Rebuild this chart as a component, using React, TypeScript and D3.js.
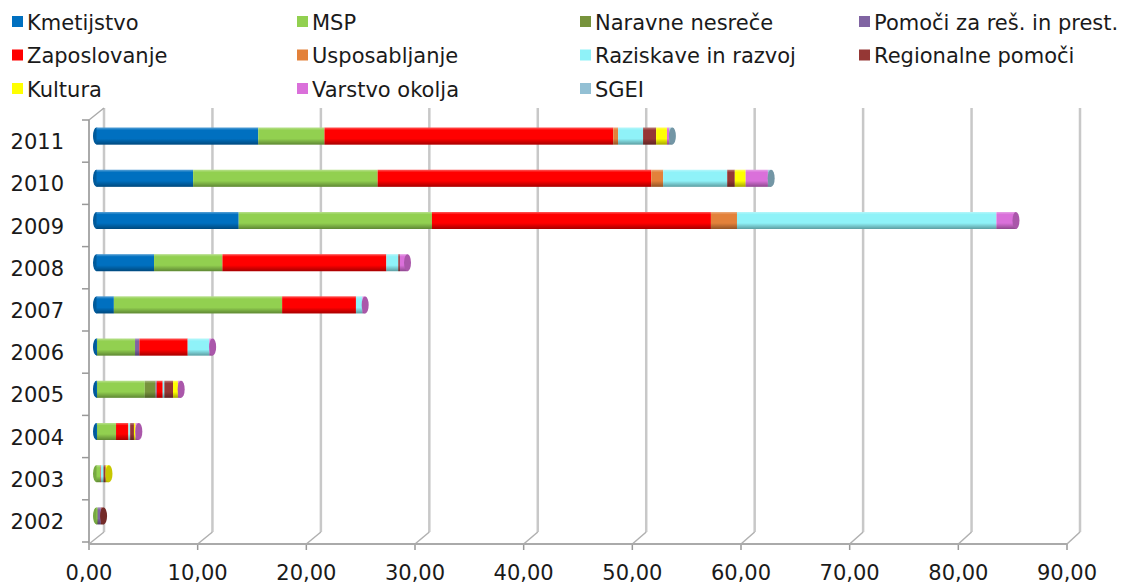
import * as React from 'react';
import {scaleBand, scaleLinear, stack, color} from 'd3';

const years = ['2002', '2003', '2004', '2005', '2006', '2007', '2008', '2009', '2010', '2011'];
const seriesNames = [
    'Kmetijstvo', 'MSP', 'Naravne nesreče', 'Pomoči za reš. in prest.',
    'Zaposlovanje', 'Usposabljanje', 'Raziskave in razvoj', 'Regionalne pomoči',
    'Kultura', 'Varstvo okolja', 'SGEI'
];
const seriesColors = [
    '#0070C0', '#92D050', '#77933C', '#8064A2',
    '#FF0000', '#E3813A', '#8FF2F8', '#953735',
    '#FFFF00', '#DA70DA', '#93C0D4'
];

// values per year, 2002 .. 2011
const kmetijstvo = [0, 0, 0.05, 0.05, 0.05, 1.6, 5.3, 13.1, 8.9, 14.9];
const msp = [0.1, 0.35, 1.75, 4.4, 3.5, 15.5, 6.3, 17.8, 17.0, 6.1];
const naravne = [0, 0, 0, 1.0, 0, 0, 0, 0, 0, 0];
const pomoci = [0.3, 0, 0, 0.1, 0.4, 0, 0, 0, 0, 0];
const zaposlovanje = [0, 0.05, 1.1, 0.55, 4.45, 6.8, 15.1, 25.7, 25.2, 26.6];
const usposabljanje = [0, 0, 0.05, 0, 0, 0, 0, 2.4, 1.1, 0.45];
const raziskave = [0, 0.25, 0.15, 0.15, 2.0, 0.6, 1.1, 23.9, 5.9, 2.3];
const regionalne = [0.25, 0.2, 0.35, 0.8, 0, 0, 0.15, 0, 0.7, 1.2];
const kultura = [0, 0.3, 0.15, 0.45, 0, 0, 0, 0, 1.0, 1.0];
const varstvo = [0, 0, 0.3, 0.3, 0.3, 0.25, 0.7, 1.8, 2.05, 0.2];
const sgei = [0, 0, 0, 0, 0, 0, 0, 0, 0.3, 0.3];

const allSeries = [kmetijstvo, msp, naravne, pomoci, zaposlovanje, usposabljanje,
    raziskave, regionalne, kultura, varstvo, sgei];
const xTicks = [0, 10, 20, 30, 40, 50, 60, 70, 80, 90];

const width = 1128;
const height = 585;
const font = '"DejaVu Sans", sans-serif';

const rows = years.map((y, i) => {
    const r: any = {year: y};
    seriesNames.forEach((s, j) => { r[s] = allSeries[j][i]; });
    return r;
});
const stacked = stack().keys(seriesNames)(rows);

const frontX = scaleLinear().domain([0, 90]).range([89, 1067]);
const backX = scaleLinear().domain([0, 90]).range([104, 1080]);
const barX = scaleLinear().domain([0, 90]).range([96.5, 1073.5]);
const yBand = scaleBand().domain(years.slice().reverse()).range([120, 542]);

const frontY = 544;
const backBottom = 532;
const backTop = 108;
const barH = 17;

const App = () => {
    const bars = years.map((yr, i) => {
        const cy = (yBand(yr) as number) + yBand.bandwidth() / 2 - 5;
        const segs = stacked
            .map((s, j) => ({x0: s[i][0], x1: s[i][1], c: seriesColors[j]}))
            .filter(d => d.x1 - d.x0 > 0);
        const first = segs[0];
        const last = segs[segs.length - 1];
        const xs = barX(0);
        const xe = barX(last.x1);
        return (
            <g key={yr}>
                <ellipse cx={xs} cy={cy} rx={3.5} ry={barH / 2}
                         fill={color(first.c)!.darker(0.6).toString()}/>
                {segs.map((d, k) =>
                    <rect key={k} x={barX(d.x0)} y={cy - barH / 2}
                          width={barX(d.x1) - barX(d.x0)} height={barH} fill={d.c}/>
                )}
                <rect x={xs} y={cy - barH / 2} width={xe - xs} height={barH} fill="url(#cyl)"/>
                <ellipse cx={xe} cy={cy} rx={3.5} ry={barH / 2}
                         fill={color(last.c)!.darker(0.7).toString()}/>
            </g>
        );
    });

    return (
        <svg width={width} height={height} style={{position: 'absolute', left: 0, top: 0}}>
            <defs>
                <linearGradient id="cyl" x1="0" y1="0" x2="0" y2="1">
                    <stop offset="0" stopColor="#fff" stopOpacity={0.35}/>
                    <stop offset="0.15" stopColor="#fff" stopOpacity={0}/>
                    <stop offset="0.65" stopColor="#000" stopOpacity={0}/>
                    <stop offset="1" stopColor="#000" stopOpacity={0.35}/>
                </linearGradient>
            </defs>
            <rect width={width} height={height} fill="#fff"/>

            {/* back wall gridlines and floor diagonals */}
            {xTicks.map(t =>
                <g key={t}>
                    <line x1={backX(t)} x2={backX(t)} y1={backTop} y2={backBottom}
                          stroke="#c8c8c8" strokeWidth={2.5}/>
                    <line x1={frontX(t)} y1={frontY} x2={backX(t)} y2={backBottom}
                          stroke="#b0b0b0" strokeWidth={1.5}/>
                    <line x1={frontX(t)} x2={frontX(t)} y1={frontY} y2={frontY + 6}
                          stroke="#999" strokeWidth={1.5}/>
                    <text x={frontX(t)} y={frontY + 36} textAnchor="middle"
                          fontFamily={font} fontSize={21} fill="#1a1a1a">
                        {t.toFixed(2).replace('.', ',')}
                    </text>
                </g>
            )}
            <line x1={frontX(0)} x2={frontX(90)} y1={frontY} y2={frontY} stroke="#aaa" strokeWidth={2}/>

            {/* category axis */}
            <line x1={frontX(0)} x2={frontX(0)} y1={120} y2={frontY} stroke="#aaa" strokeWidth={2}/>
            <line x1={frontX(0)} y1={120} x2={backX(0)} y2={backTop} stroke="#aaa" strokeWidth={1.5}/>
            {[...years.map(y => yBand(y) as number), 542].map((t, i) =>
                <line key={i} x1={frontX(0) - 7} x2={frontX(0)} y1={t} y2={t} stroke="#999" strokeWidth={1.5}/>
            )}
            {years.map(y =>
                <text key={y} x={64} y={(yBand(y) as number) + yBand.bandwidth() / 2 + 8}
                      textAnchor="end" fontFamily={font} fontSize={21} fill="#1a1a1a">{y}</text>
            )}

            {bars}

            {/* legend */}
            {seriesNames.map((s, i) => {
                const col = i % 4;
                const row = Math.floor(i / 4);
                const lx = [12, 297, 580, 859][col];
                const ly = 22 + row * 33.5;
                return (
                    <g key={s}>
                        <rect x={lx} y={ly - 6} width={11} height={11} fill={seriesColors[i]}/>
                        <text x={lx + 15} y={ly + 7.5} fontFamily={font} fontSize={21} fill="#1a1a1a">{s}</text>
                    </g>
                );
            })}
        </svg>
    );
};

export default App;
